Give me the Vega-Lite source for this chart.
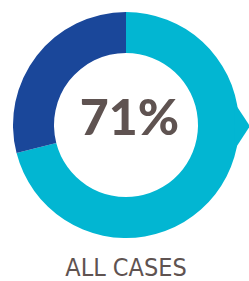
{
  "$schema": "https://vega.github.io/schema/vega-lite/v6.json",
  "autosize": {"type": "none"},
  "width": 226,
  "height": 226,
  "padding": {"left": 13, "top": 12, "right": 10, "bottom": 43},
  "background": "white",
  "view": {"stroke": null},
  "title": {
    "text": "ALL CASES",
    "orient": "bottom",
    "anchor": "middle",
    "font": "DejaVu Sans Condensed, Roboto, sans-serif",
    "fontSize": 25,
    "fontWeight": "normal",
    "color": "#5f5351",
    "baseline": "top",
    "offset": 18
  },
  "layer": [
    {
      "data": {"values": [
        {"group": "All cases", "value": 71},
        {"group": "Other", "value": 29}
      ]},
      "mark": {"type": "arc", "outerRadius": 113, "innerRadius": 72},
      "encoding": {
        "theta": {"field": "value", "type": "quantitative", "stack": true},
        "order": {"field": "value", "sort": "descending"},
        "color": {
          "field": "group",
          "type": "nominal",
          "scale": {"domain": ["All cases", "Other"], "range": ["#02b6d2", "#1a479a"]},
          "legend": null
        }
      }
    },
    {
      "data": {"values": [{"label": "71%", "x": 0.03, "y": 0.04, "kind": "label"}]},
      "mark": {"type": "text", "font": "Lato", "fontWeight": 900, "fontSize": 50, "color": "#5f5351", "baseline": "middle", "align": "center"},
      "encoding": {
        "text": {"field": "label"},
        "x": {"field": "x", "type": "quantitative", "scale": {"domain": [-1, 1]}, "axis": null},
        "y": {"field": "y", "type": "quantitative", "scale": {"domain": [-1, 1]}, "axis": null}
      }
    },
    {
      "data": {"values": [{"x": 1.03, "y": -0.01, "kind": "arrow"}]},
      "mark": {"type": "point", "filled": true, "opacity": 1, "color": "#02b6d2", "shape": "M-0.33,-1L0.33,0L-0.33,1Z", "size": 2116},
      "encoding": {
        "x": {"field": "x", "type": "quantitative"},
        "y": {"field": "y", "type": "quantitative"}
      }
    }
  ]
}
